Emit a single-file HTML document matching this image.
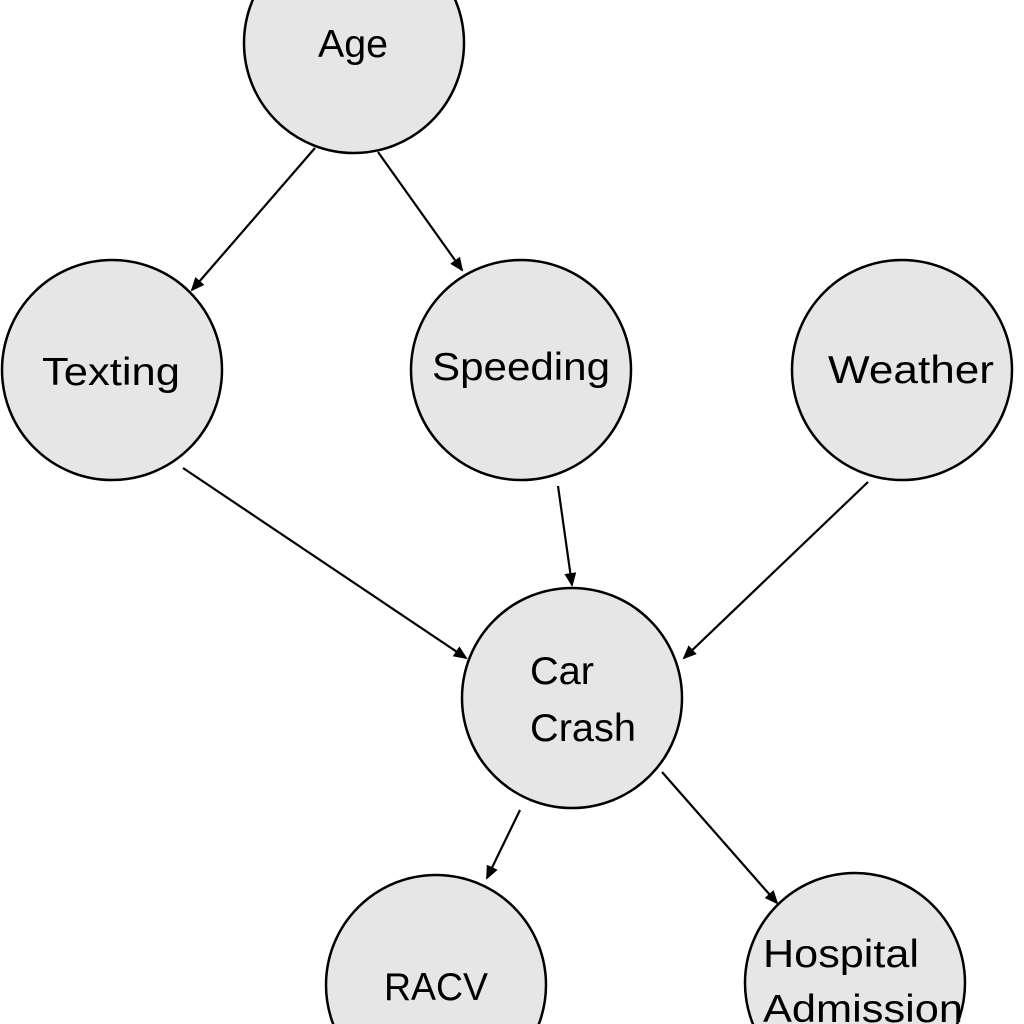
<!DOCTYPE html>
<html><head><meta charset="utf-8"><style>
html,body{margin:0;padding:0;background:#fff;width:1024px;height:1024px;overflow:hidden}
svg{display:block}
text{font-family:"Liberation Sans",sans-serif;font-size:39px;fill:#000}
</style></head><body>
<svg width="1024" height="1024" viewBox="0 0 1024 1024" xmlns="http://www.w3.org/2000/svg">
<defs><marker id="a" markerWidth="14" markerHeight="12" refX="12" refY="6" orient="auto" markerUnits="userSpaceOnUse"><path d="M0,0 L14,6 L0,12 z" fill="#000"/></marker></defs>
<g fill="#e6e6e6" stroke="#000" stroke-width="2.5">
<circle cx="354" cy="43" r="110"/>
<circle cx="112" cy="370" r="110"/>
<circle cx="521" cy="370" r="110"/>
<circle cx="902" cy="370" r="110"/>
<circle cx="572" cy="698" r="110"/>
<circle cx="436" cy="985" r="110"/>
<circle cx="855" cy="983" r="110"/>
</g>
<g stroke="#000" stroke-width="2.2" marker-end="url(#a)">
<line x1="315" y1="148" x2="192" y2="290"/>
<line x1="378" y1="152" x2="462" y2="270"/>
<line x1="183" y1="468" x2="466" y2="658"/>
<line x1="558" y1="486" x2="572" y2="585"/>
<line x1="868" y1="482" x2="684" y2="658"/>
<line x1="520" y1="810" x2="487" y2="878"/>
<line x1="662" y1="772" x2="777" y2="903"/>
</g>
<text x="318" y="57" textLength="70" lengthAdjust="spacingAndGlyphs">Age</text>
<text x="42" y="385" textLength="138" lengthAdjust="spacingAndGlyphs">Texting</text>
<text x="432" y="380" textLength="178" lengthAdjust="spacingAndGlyphs">Speeding</text>
<text x="828" y="383" textLength="166" lengthAdjust="spacingAndGlyphs">Weather</text>
<text x="530" y="684" textLength="64" lengthAdjust="spacingAndGlyphs">Car</text>
<text x="530" y="741" textLength="106" lengthAdjust="spacingAndGlyphs">Crash</text>
<text x="384" y="1000" textLength="104" lengthAdjust="spacingAndGlyphs">RACV</text>
<text x="763" y="967" textLength="156" lengthAdjust="spacingAndGlyphs">Hospital</text>
<text x="763" y="1022" textLength="200" lengthAdjust="spacingAndGlyphs">Admission</text>
</svg>
</body></html>
